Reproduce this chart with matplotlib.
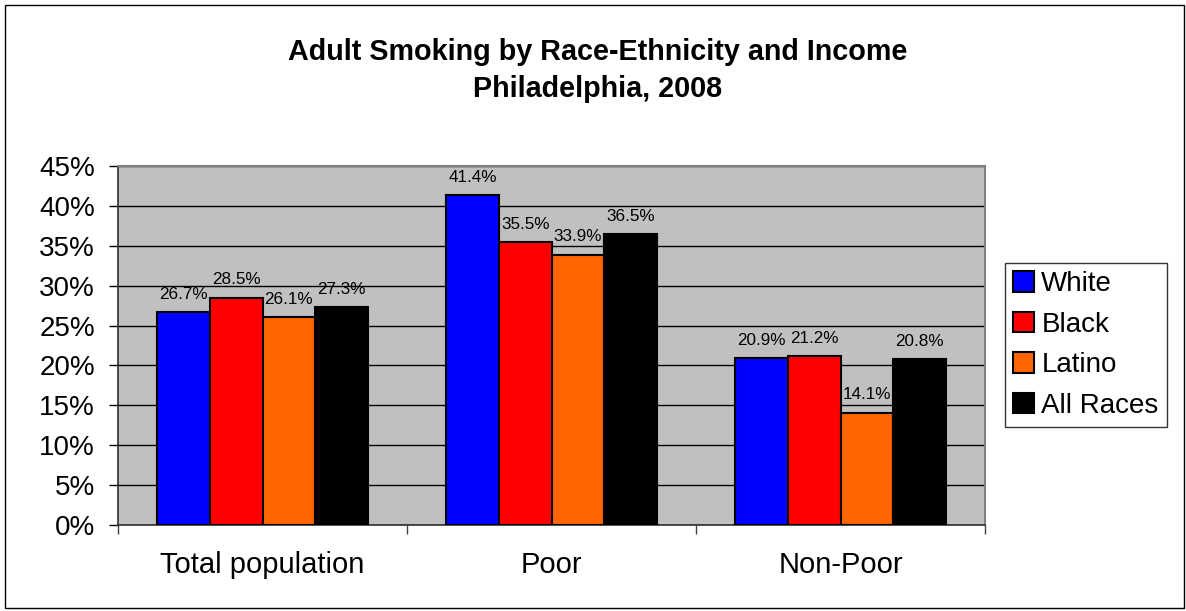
import matplotlib.pyplot as plt
import numpy as np
from matplotlib.patches import Rectangle
from matplotlib.ticker import FixedLocator, FuncFormatter

plt.rcParams['font.family'] = ['Liberation Sans', 'DejaVu Sans']

categories = ['Total population', 'Poor', 'Non-Poor']
series = ['White', 'Black', 'Latino', 'All Races']
white = [26.7, 41.4, 20.9]
black = [28.5, 35.5, 21.2]
latino = [26.1, 33.9, 14.1]
all_races = [27.3, 36.5, 20.8]
colors = ['#0000FF', '#FF0000', '#FF6600', '#000000']

fig = plt.figure(figsize=(11.86, 6.11), dpi=100)
ax = fig.add_axes([118 / 1186, 1 - 525 / 611, 867 / 1186, 359 / 611])
ax.set_facecolor('#C0C0C0')

x = np.arange(len(categories))
w = 0.182
for i, (name, vals) in enumerate(zip(series, [white, black, latino, all_races])):
    pos = x + (i - 1.5) * w
    bars = ax.bar(pos, vals, w, color=colors[i], edgecolor='black',
                  linewidth=1.5, label=name, zorder=3)
    for b, v in zip(bars, vals):
        ax.annotate('%.1f%%' % v, (b.get_x() + b.get_width() / 2, v),
                    xytext=(0, 9.5), textcoords='offset points',
                    ha='center', va='baseline', fontsize=12.3)

ax.set_xlim(-0.5, 2.5)
ax.set_ylim(0, 45)
ax.set_yticks(np.arange(0, 46, 5))
ax.yaxis.set_major_formatter(FuncFormatter(lambda v, p: '%d%%' % v))
ax.yaxis.grid(True, color='black', linewidth=1, zorder=1)
ax.set_axisbelow(True)

ax.set_xticks(x)
ax.set_xticklabels(categories)
ax.xaxis.set_minor_locator(FixedLocator([-0.5, 0.5, 1.5, 2.5]))
ax.tick_params(axis='x', which='major', length=0, pad=19, labelsize=21)
ax.tick_params(axis='x', which='minor', length=6.5, width=1, color='#404040')
ax.tick_params(axis='y', length=6.5, width=1, pad=10, labelsize=20)

for s in ['top', 'right']:
    ax.spines[s].set_color('#808080')
    ax.spines[s].set_linewidth(1.5)
for s in ['left', 'bottom']:
    ax.spines[s].set_color('#303030')
    ax.spines[s].set_linewidth(1.2)

leg = ax.legend(loc='center', bbox_to_anchor=(1086 / 1186, 1 - 345 / 611),
                bbox_transform=fig.transFigure, fontsize=20, frameon=True,
                fancybox=False, edgecolor='black', handlelength=0.75,
                handleheight=0.75, handletextpad=0.25, labelspacing=0.52,
                borderpad=0.3, borderaxespad=0)
leg.get_frame().set_linewidth(1)

fig.text(597.5 / 1186, 1 - 60 / 611, 'Adult Smoking by Race-Ethnicity and Income',
         ha='center', va='baseline', fontsize=20.7, fontweight='bold')
fig.text(597.5 / 1186, 1 - 97 / 611, 'Philadelphia, 2008',
         ha='center', va='baseline', fontsize=20.7, fontweight='bold')

fig.patches.append(Rectangle((5 / 1186, 3 / 611), 1179 / 1186, 603 / 611,
                             transform=fig.transFigure, fill=False,
                             edgecolor='black', linewidth=1))

fig.savefig('out.png', dpi=100)
